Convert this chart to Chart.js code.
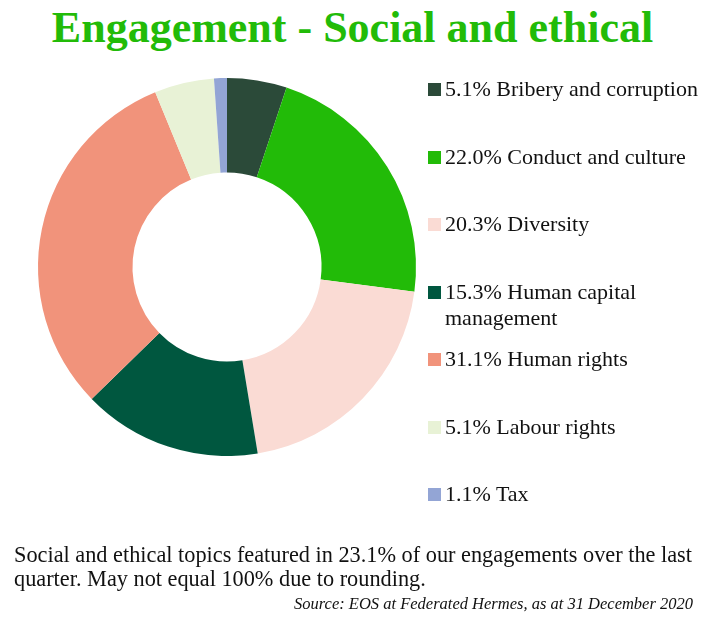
<!DOCTYPE html>
<html>
<head>
<meta charset="utf-8">
<script src="https://cdn.jsdelivr.net/npm/chart.js@4"></script>
<style>
  body { margin: 0; width: 705px; height: 630px; background: #fff; position: relative; overflow: hidden;
         font-family: "Liberation Serif", "DejaVu Serif", serif; color: #111; }
  #title { position: absolute; left: 0; width: 705px; top: 2px; text-align: center;
           font-size: 44px; font-weight: bold; color: #22bb08; }
  #chart-wrap { position: absolute; left: 0; top: 78px; width: 454px; height: 378px; }
  #legend { position: absolute; left: 428px; top: 76px; width: 277px; }
  .lg-item { height: 67.5px; display: flex; align-items: flex-start; font-size: 22px; line-height: 26px; }
  .lg-box { width: 13px; height: 13px; flex: none; margin: 7px 4px 0 0; }
  #note { position: absolute; left: 14px; top: 543px; width: 690px; font-size: 22.3px; line-height: 24px; }
  #source { position: absolute; right: 12px; top: 594px; font-size: 16.5px; font-style: italic; }
</style>
</head>
<body>
<div id="title">Engagement - Social and ethical</div>
<div id="chart-wrap"><canvas id="pie"></canvas></div>
<div id="legend"></div>
<div id="note">Social and ethical topics featured in 23.1% of our engagements over the last quarter. May not equal 100% due to rounding.</div>
<div id="source">Source: EOS at Federated Hermes, as at 31 December 2020</div>
<script>
// ── Data ──────────────────────────────────────────────
var categories = ['Bribery and corruption', 'Conduct and culture', 'Diversity',
                  'Human capital management', 'Human rights', 'Labour rights', 'Tax'];
var shares = [5.1, 22.0, 20.3, 15.3, 31.1, 5.1, 1.1];
var colors = ['#2b4a39', '#22bb08', '#fadbd4', '#00573f', '#f1937b', '#e8f2d6', '#93a5d5'];

// ── Doughnut ──────────────────────────────────────────
new Chart(document.getElementById('pie'), {
  type: 'doughnut',
  data: {
    labels: categories,
    datasets: [{ data: shares, backgroundColor: colors, borderWidth: 0 }]
  },
  options: {
    responsive: true,
    maintainAspectRatio: false,
    animation: false,
    cutout: '50%',
    plugins: { legend: { display: false }, tooltip: { enabled: false } }
  }
});

// ── Legend ────────────────────────────────────────────
var html = '';
categories.forEach(function (c, i) {
  html += '<div class="lg-item"><span class="lg-box" style="background:' + colors[i] + '"></span>' +
          '<span>' + shares[i].toFixed(1) + '% ' + c + '</span></div>';
});
document.getElementById('legend').innerHTML = html;
</script>
</body>
</html>
